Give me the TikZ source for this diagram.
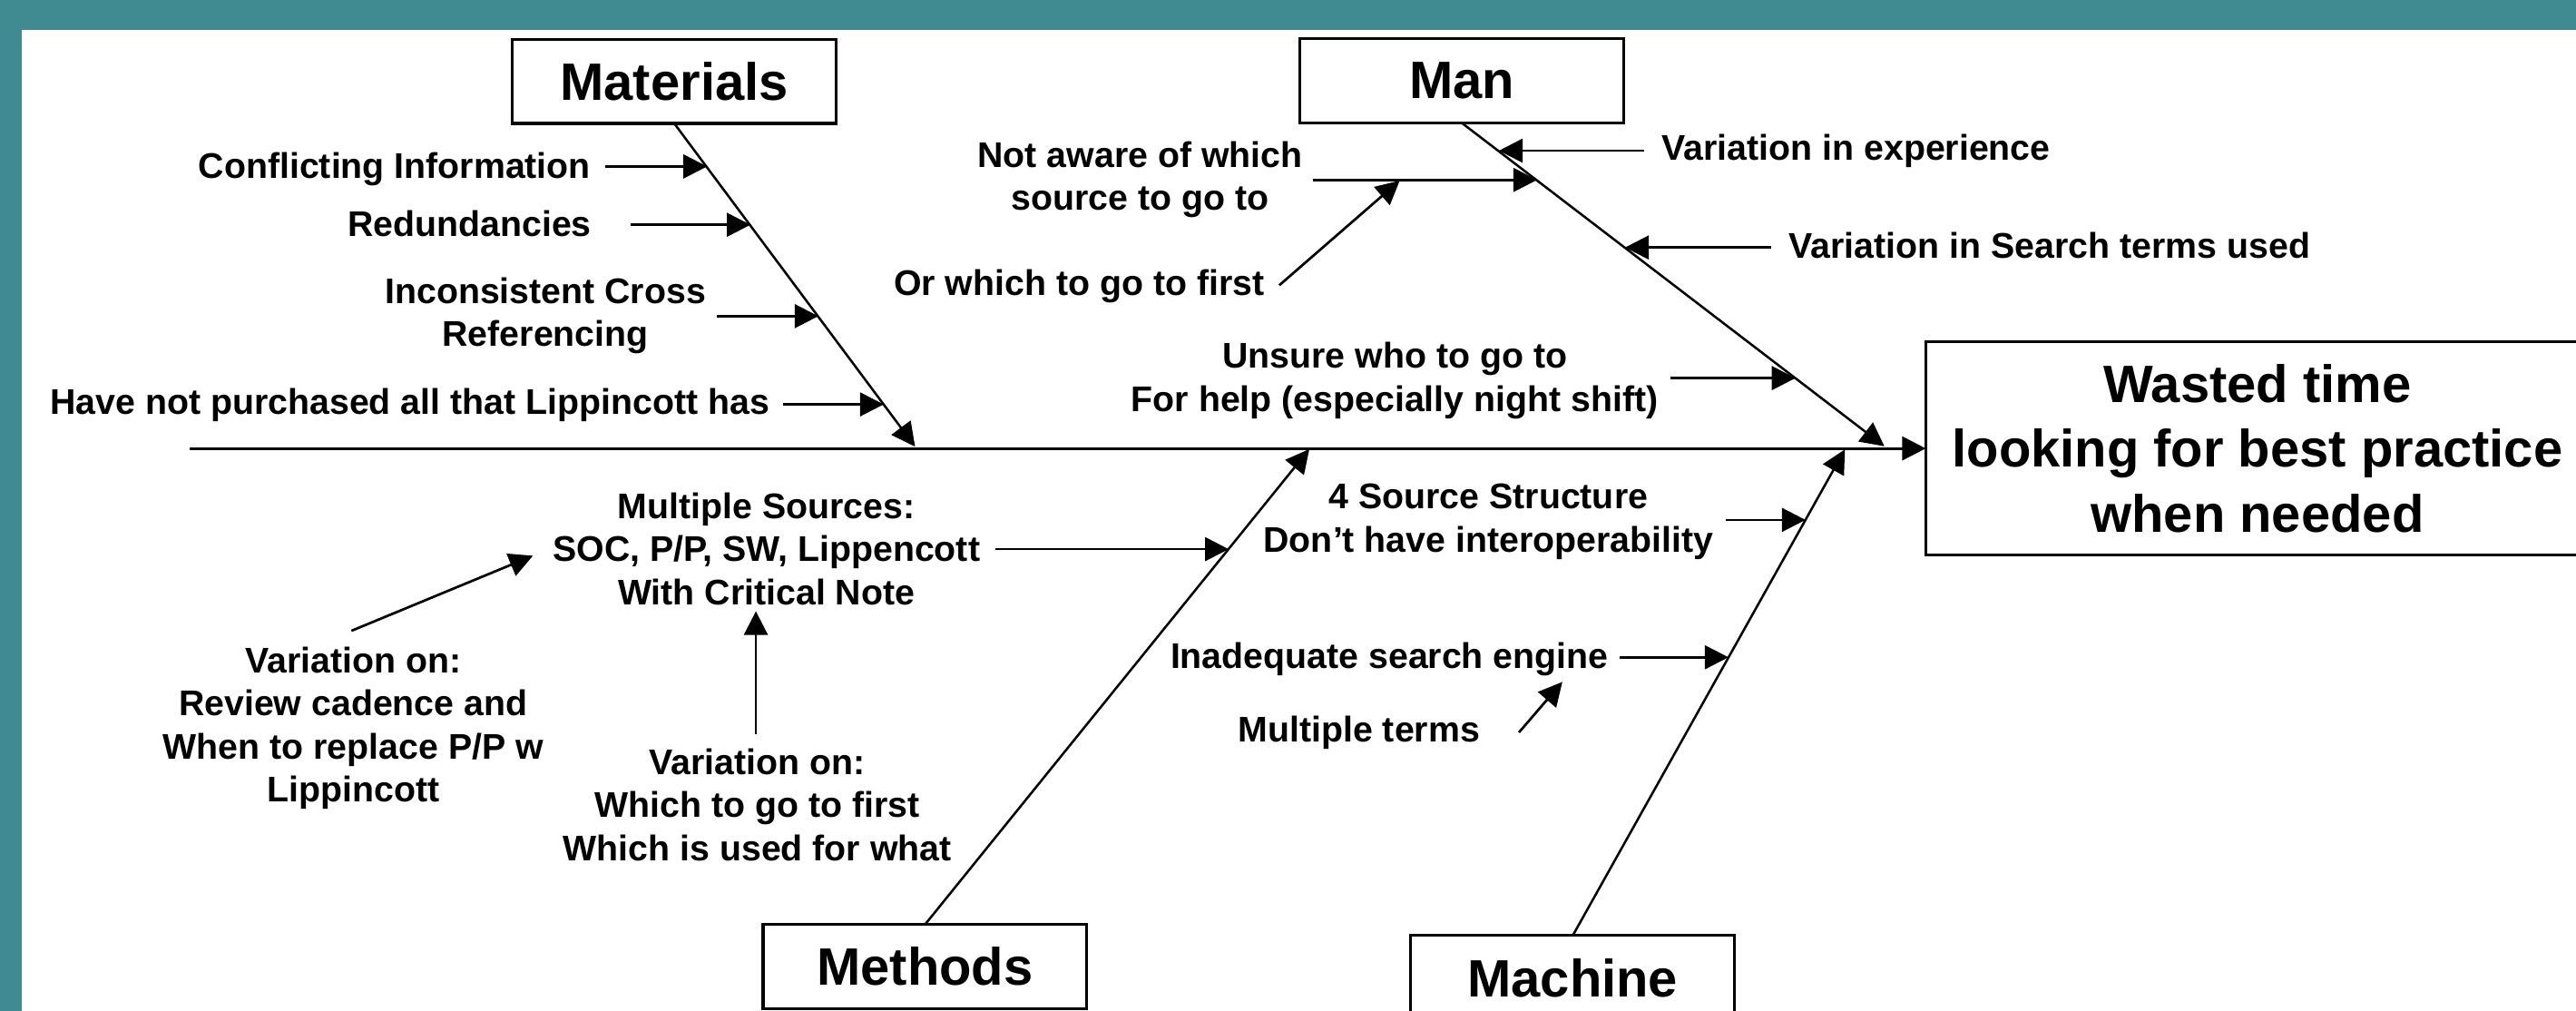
\documentclass[tikz,border=0pt]{standalone}
\usepackage{fontspec}
\setmainfont{Liberation Sans}
\usetikzlibrary{arrows.meta}
\definecolor{frameteal}{HTML}{3F8B91}
\begin{document}
\begin{tikzpicture}[x=0.5pt,y=-0.5pt,
  every node/.style={inner sep=0pt, outer sep=0pt},
  lbl/.style={font=\bfseries\fontsize{10.85}{13.1}\selectfont, align=center},
  cat/.style={draw, line width=0.85pt, fill=white, align=center,
    font=\bfseries\fontsize{16}{19.75}\selectfont,
    minimum width=98.5pt, minimum height=25.6pt},
  tip/.style={-{Triangle[length=7.2pt,width=7.2pt]}},
  spine/.style={tip, line width=0.85pt},
  bone/.style={tip, line width=0.7pt},
  sub/.style={tip, line width=0.75pt},
]
\useasboundingbox (0,0) rectangle (1568,615);
\clip (0,0) rectangle (1568,615);
% frame
\fill[frameteal] (0,0) rectangle (1568,615);
\fill[white] (13.3,18.2) rectangle (1600,640);

% category boxes and effect
\node[cat] (mat) at (410.4,49.5) {Materials};
\node[cat] (man) at (889.9,49.3) {Man};
\node[cat] (meth) at (563,588.3) {Methods};
\node[cat] (mach) at (957.3,595) {Machine};
\node[cat, minimum width=201.9pt, minimum height=64.9pt] (eff) at (1374.1,272.9)
  {Wasted time\\looking for best practice\\when needed};

% spine
\coordinate (sp0) at (115.5,272.9);
\draw[spine] (sp0) -- (eff.west);

% bones
\coordinate (matE) at (557,271.8);
\coordinate (manE) at (1147,271.6);
\coordinate (methE) at (797,273.3);
\coordinate (machE) at (1123,273.5);
\draw[bone] (mat.south) -- (matE);
\draw[bone] (man.south) -- (manE);
\draw[bone] (meth.north) -- (methE);
\draw[bone] (mach.north) -- (machE);

% Materials causes
\node[lbl, anchor=base east] (c1) at (359.5,108.6) {Conflicting Information};
\coordinate (c1s) at (368.2,101.3); \coordinate (c1e) at (430.4,101.3);
\draw[sub] (c1s) -- (c1e);
\node[lbl, anchor=base east] (c2) at (360,143.6) {Redundancies};
\coordinate (c2s) at (383.9,136.8); \coordinate (c2e) at (456.8,136.8);
\draw[sub] (c2s) -- (c2e);
\node[lbl, anchor=base] (c3) at (332,210.8) {Inconsistent Cross\\Referencing};
\coordinate (c3s) at (436.3,192.4); \coordinate (c3e) at (498.1,192.4);
\draw[sub] (c3s) -- (c3e);
\node[lbl, anchor=base east] (c4) at (468.3,252.2) {Have not purchased all that Lippincott has};
\coordinate (c4s) at (476.5,246.1); \coordinate (c4e) at (537.9,246.1);
\draw[sub] (c4s) -- (c4e);

% Man causes
\node[lbl, anchor=base west] (c5) at (1011.6,97.6) {Variation in experience};
\coordinate (c5s) at (1001,91.7); \coordinate (c5e) at (912.4,91.7);
\draw[sub] (c5s) -- (c5e);
\node[lbl, anchor=base west] (c6) at (1089,157.4) {Variation in Search terms used};
\coordinate (c6s) at (1078,150.6); \coordinate (c6e) at (989.2,150.6);
\draw[sub] (c6s) -- (c6e);
\node[lbl, anchor=base] (c7) at (694,128) {Not aware of which\\source to go to};
\coordinate (c7s) at (799,109.5); \coordinate (c7e) at (935.6,109.5);
\draw[sub] (c7s) -- (c7e);
\node[lbl, anchor=base east] (c8) at (769.5,179.5) {Or which to go to first};
\coordinate (c8s) at (778.7,173.6); \coordinate (c8e) at (852,109.9);
\draw[sub] (c8s) -- (c8e);
\node[lbl, anchor=base] (c9) at (849,250.4) {Unsure who to go to\\For help (especially night shift)};
\coordinate (c9s) at (1017,230.1); \coordinate (c9e) at (1092.9,230.1);
\draw[sub] (c9s) -- (c9e);

% Methods causes
\node[lbl, anchor=base] (c10) at (466.5,368) {Multiple Sources:\\SOC, P/P, SW, Lippencott\\With Critical Note};
\coordinate (c10s) at (606,334.2); \coordinate (c10e) at (747.9,334.2);
\draw[sub] (c10s) -- (c10e);
\node[lbl, anchor=base] (c11) at (215,488) {Variation on:\\Review cadence and\\When to replace P/P w\\Lippincott};
\coordinate (c11s) at (213.9,383.9); \coordinate (c11e) at (324.4,338.2);
\draw[sub] (c11s) -- (c11e);
\node[lbl, anchor=base] (c12) at (461,523.7) {Variation on:\\Which to go to first\\Which is used for what};
\coordinate (c12s) at (460.1,447); \coordinate (c12e) at (460.1,372);
\draw[sub] (c12s) -- (c12e);

% Machine causes
\node[lbl, anchor=base] (c13) at (906,336) {4 Source Structure\\Don’t have interoperability};
\coordinate (c13s) at (1050.5,316.4); \coordinate (c13e) at (1099,316.4);
\draw[sub] (c13s) -- (c13e);
\node[lbl, anchor=base east] (c14) at (979,406.7) {Inadequate search engine};
\coordinate (c14s) at (986,400); \coordinate (c14e) at (1052.1,400);
\draw[sub] (c14s) -- (c14e);
\node[lbl, anchor=base west] (c15) at (753.7,451.3) {Multiple terms};
\coordinate (c15s) at (924.6,445.7); \coordinate (c15e) at (951,415);
\draw[sub] (c15s) -- (c15e);
\end{tikzpicture}
\end{document}
